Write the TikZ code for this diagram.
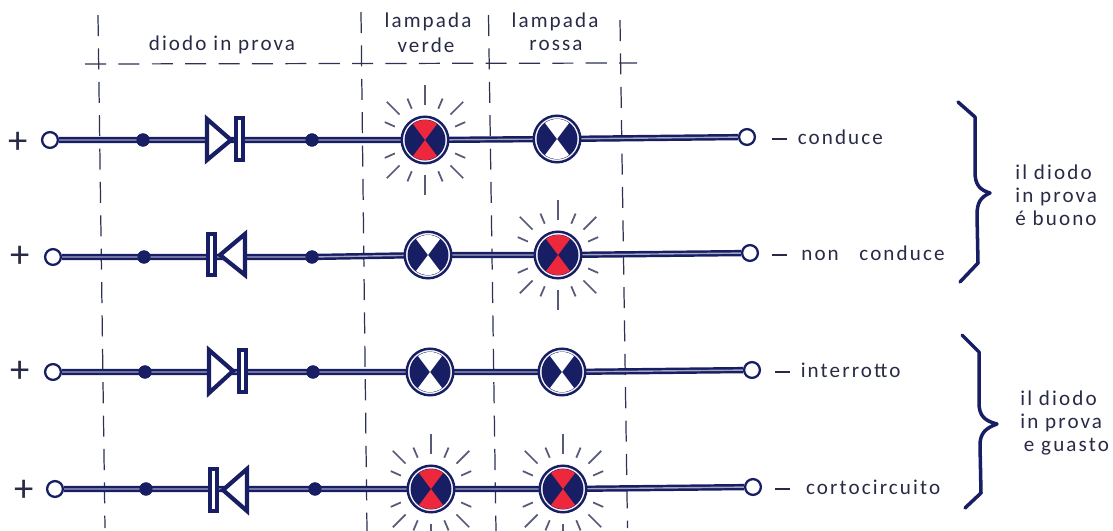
\documentclass[tikz,border=0pt]{standalone}
\usepackage{fontspec}
\setmainfont[LetterSpace=10]{Carlito}
\usetikzlibrary{calc}
\definecolor{ink}{RGB}{24,30,100}
\definecolor{lampred}{RGB}{238,40,60}
\definecolor{dashink}{RGB}{45,50,85}
\definecolor{txt}{RGB}{40,42,70}
\tikzset{
  wire/.style={draw=ink,line width=1.4pt,double=white!60!ink,double distance=0.8pt},
  term/.style={circle,draw=ink,line width=1.3pt,fill=white,minimum size=9pt,inner sep=0pt},
  junction/.style={circle,fill=ink,minimum size=7.5pt,inner sep=0pt},
  guide/.style={draw=dashink,line width=0.7pt,dash pattern=on 12pt off 7pt},
  lampring/.style={circle,draw=ink,line width=1.4pt,fill=white,minimum size=26.5pt,inner sep=0pt},
  ray/.style={draw=dashink!80,line width=1pt},
  diodeline/.style={draw=ink,line width=2.4pt,fill=white,line join=miter},
  lbl/.style={font=\fontsize{12}{13}\selectfont,text=txt,inner sep=0pt},
  sym/.style={font=\fontsize{22}{22}\selectfont,text=txt,inner sep=0pt},
  brace/.style={draw=ink,line width=2pt,line cap=round,line join=round}
}
\newcommand{\lampat}[4]{% name, x, y, colour
  \node[lampring] (#1) at (#2,#3) {};
  \fill[ink] (#2,#3) circle (20.5);
  \fill[#4] (#2,#3) -- (#2-12,#3-16) arc (233:307:20) -- cycle;
  \fill[#4] (#2,#3) -- (#2-12,#3+16) arc (127:53:20) -- cycle;
}
\newcommand{\raysat}[2]{%
  \foreach \a/\ra/\rb in {90/35/55,67/34/45,45/36/54,24/33/44,-24/33/44,-45/36/54,-67/34/45,-90/35/55,113/34/45,135/36/54,156/33/44,204/33/44,225/36/54,247/34/45}{
    \draw[ray] ($(#1,#2)+(\a:\ra)$) -- ($(#1,#2)+(\a:\rb)$);
  }
}
\newcommand{\dashmark}{\rule[2.6pt]{8.5pt}{1pt}\hspace{6pt}}
\begin{document}
\begin{tikzpicture}[x=0.02cm,y=-0.02cm]
\useasboundingbox (0,0) rectangle (1113,531);
% guides
\coordinate (g1t) at (98,15); \coordinate (g1b) at (105,528);
\coordinate (g2t) at (361,12); \coordinate (g2b) at (367,531);
\coordinate (g3t) at (488.5,15); \coordinate (g3b) at (496,531);
\coordinate (g4t) at (620,20); \coordinate (g4b) at (627.5,528);
\coordinate (hl) at (85,64); \coordinate (hr) at (637,63);
\draw[guide] (g1t) -- (g1b);
\draw[guide] (g2t) -- (g2b);
\draw[guide] (g3t) -- (g3b);
\draw[guide] (g4t) -- (g4b);
\draw[guide] (hl) -- (hr);
% rows
\foreach \n/\y/\tl/\da/\db/\la/\lb/\tx/\ty/\ly/\lyb in {1/140/50/143/312/425/557/747/137/140/139,2/257/53/144/312/428/558/750/253/255/255,3/372/53/145/313/430/562/752/370/372/372,4/489/55/146/315/431/563/753/487/489/489}{
  \node[term] (tl\n) at (\tl,\y) {};
  \node[term] (tr\n) at (\tx,\ty) {};
  \node[junction] (ja\n) at (\da,\y) {};
  \node[junction] (jb\n) at (\db,\y) {};
  \coordinate (la\n) at (\la,\ly);
  \coordinate (lb\n) at (\lb,\lyb);
  \draw[wire] (tl\n) -- (ja\n.center) -- (jb\n.center) -- (la\n) -- (lb\n) -- (tr\n);
  \node[junction] at (\da,\y) {};
  \node[junction] at (\db,\y) {};
}
% diodes
\draw[diodeline] (207,119) -- (231,140) -- (207,160) -- cycle;
\draw[diodeline] (236,118) rectangle (243,160);
\draw[diodeline] (208,234) rectangle (215,275);
\draw[diodeline] (245,234) -- (220,255) -- (245,275) -- cycle;
\draw[diodeline] (209,350) -- (233,371) -- (209,393) -- cycle;
\draw[diodeline] (239,350) rectangle (246,392);
\draw[diodeline] (210,469) rectangle (217,511);
\draw[diodeline] (247,469) -- (223,490) -- (247,511) -- cycle;
% lamps
\lampat{g1}{425}{140}{lampred}\raysat{425}{140}
\lampat{r1}{557}{139}{white}
\lampat{g2}{428}{255}{white}
\lampat{r2}{558}{255}{lampred}\raysat{558}{255}
\lampat{g3}{430}{372}{white}
\lampat{r3}{562}{372}{white}
\lampat{g4}{431}{489}{lampred}\raysat{431}{489}
\lampat{r4}{563}{489}{lampred}\raysat{563}{489}
% texts
\node[lbl] (t1) at (222,45) {diodo in prova};
\node[lbl] (t2a) at (428,22) {lampada};
\node[lbl] (t2b) at (426,45) {verde};
\node[lbl] (t3a) at (555,22) {lampada};
\node[lbl] (t3b) at (556,45) {rossa};
\node[sym] (p1) at (18,143) {+};
\node[sym] (p2) at (20,257) {+};
\node[sym] (p3) at (20,372) {+};
\node[sym] (p4) at (24,491) {+};
\node[lbl,anchor=west] (c1) at (772,137) {\dashmark conduce};
\node[lbl,anchor=west] (c2) at (772,253) {\dashmark\hspace{2pt}non\ \ \ conduce};
\node[lbl,anchor=west] (c3) at (775,370) {\dashmark interrotto};
\node[lbl,anchor=west] (c4) at (775,487) {\dashmark\hspace{3pt}cortocircuito};
\node[lbl,align=left,anchor=west] (b1) at (1015,195) {il diodo\\in prova\\é buono};
\node[lbl,align=left,anchor=west] (b2) at (1020,423) {il diodo\\in prova\\\hspace{2pt}e guasto};
% braces
\draw[brace] (958,102) -- (975,117) -- (975,172) .. controls (975,185) and (980,190) .. (990,193) .. controls (981,197) and (977,202) .. (977,215) -- (978,263) -- (960,282);
\draw[brace] (962,335) -- (979,352) -- (979,403) .. controls (979,416) and (985,421) .. (997,424) .. controls (986,428) and (980,433) .. (980,445) -- (981,493) -- (965,508);
\end{tikzpicture}
\end{document}
